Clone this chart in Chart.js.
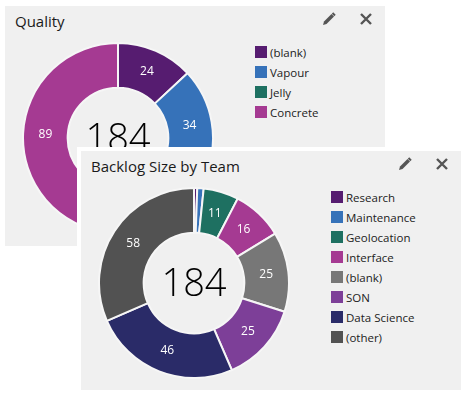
<!DOCTYPE html>
<html>
<head>
<meta charset="utf-8">
<script src="https://cdn.jsdelivr.net/npm/chart.js@4.4.1/dist/chart.umd.min.js"></script>
<style>
  body { margin: 0; width: 462px; height: 394px; background: #fff; position: relative; overflow: hidden; font-family: "Open Sans", sans-serif; }
  .card { position: absolute; background: #f0f0f0; }
  #card-quality { left: 5px; top: 6px; width: 380px; height: 240px; }
  #card-team { left: 77px; top: 147px; width: 380px; height: 239px; border: 4px solid #fff; }
  .title { position: absolute; left: 10px; top: 5px; font-size: 15px; line-height: 20px; color: #1a1a1a; white-space: nowrap; }
  .icon { position: absolute; top: 6px; width: 14px; height: 14px; }
  .icon.edit { left: 317px; }
  .icon.close { left: 354px; }
  .chart-box { position: absolute; left: 17px; top: 36px; width: 192px; height: 192px; }
  .legend { position: absolute; left: 250px; top: 36px; list-style: none; margin: 0; padding: 0; }
  .legend li { height: 20px; display: flex; align-items: center; font-size: 11.5px; color: #222; white-space: nowrap; }
  .legend .box { width: 12px; height: 12px; margin-right: 3px; flex: none; }
</style>
</head>
<body>

<div class="card" id="card-quality">
  <div class="title">Quality</div>
  <svg class="icon edit" viewBox="0 0 14 14"><path d="M1 13 L2 9.5 L9.5 2 L12 4.5 L4.5 12 Z" fill="#555"/><path d="M10.5 1 L13 3.5" stroke="#555" stroke-width="2"/></svg>
  <svg class="icon close" viewBox="0 0 14 14"><path d="M2 2 L12 12 M12 2 L2 12" stroke="#555" stroke-width="2.4"/></svg>
  <div class="chart-box"><canvas id="qualityChart"></canvas></div>
  <ul class="legend" id="qualityLegend"></ul>
</div>

<div class="card" id="card-team">
  <div class="title">Backlog Size by Team</div>
  <svg class="icon edit" viewBox="0 0 14 14"><path d="M1 13 L2 9.5 L9.5 2 L12 4.5 L4.5 12 Z" fill="#555"/><path d="M10.5 1 L13 3.5" stroke="#555" stroke-width="2"/></svg>
  <svg class="icon close" viewBox="0 0 14 14"><path d="M2 2 L12 12 M12 2 L2 12" stroke="#555" stroke-width="2.4"/></svg>
  <div class="chart-box"><canvas id="teamChart"></canvas></div>
  <ul class="legend" id="teamLegend"></ul>
</div>

<script>
const qualityLabels = ['(blank)', 'Vapour', 'Jelly', 'Concrete'];
const qualityValues = [24, 34, 37, 89];
const qualityColors = ['#561c70', '#3672b9', '#1e7061', '#a53a92'];

const teamLabels = ['Research', 'Maintenance', 'Geolocation', 'Interface', '(blank)', 'SON', 'Data Science', '(other)'];
const teamValues = [1, 2, 11, 16, 25, 25, 46, 58];
const teamColors = ['#561c70', '#3672b9', '#1e7061', '#a53a92', '#777777', '#7d3f98', '#2a2b68', '#525252'];

// value on each slice + total in the hole
const donutText = {
    id: 'donutText',
    afterDatasetsDraw(chart) {
        const ctx = chart.ctx;
        const meta = chart.getDatasetMeta(0);
        const values = chart.data.datasets[0].data;
        ctx.save();
        ctx.textAlign = 'center';
        ctx.textBaseline = 'middle';
        ctx.fillStyle = '#fff';
        ctx.font = '12px "Open Sans"';
        meta.data.forEach((arc, i) => {
            if (values[i] < 5) return;
            const p = arc.tooltipPosition();
            ctx.fillText(values[i], p.x, p.y);
        });
        const total = values.reduce((a, b) => a + b, 0);
        ctx.fillStyle = '#000';
        ctx.font = '300 38px "Open Sans"';
        ctx.fillText(total, meta.data[0].x, meta.data[0].y + 2);
        ctx.restore();
    }
};

// html legend built from the chart's own legend items
const htmlLegend = {
    id: 'htmlLegend',
    afterUpdate(chart, args, opts) {
        const ul = document.getElementById(opts.containerID);
        const items = chart.options.plugins.legend.labels.generateLabels(chart);
        ul.innerHTML = items.map(it =>
            `<li><span class="box" style="background:${it.fillStyle}"></span>${it.text}</li>`
        ).join('');
    }
};

function makeDonut(id, legendId, labels, values, colors) {
    return new Chart(document.getElementById(id), {
        type: 'doughnut',
        data: {
            labels: labels,
            datasets: [{
                data: values,
                backgroundColor: colors,
                borderColor: '#f6f6f6',
                borderWidth: 2
            }]
        },
        options: {
            responsive: true,
            maintainAspectRatio: false,
            animation: false,
            cutout: '53%',
            plugins: {
                legend: { display: false },
                tooltip: { enabled: false },
                htmlLegend: { containerID: legendId }
            }
        },
        plugins: [donutText, htmlLegend]
    });
}

makeDonut('qualityChart', 'qualityLegend', qualityLabels, qualityValues, qualityColors);
makeDonut('teamChart', 'teamLegend', teamLabels, teamValues, teamColors);
</script>
</body>
</html>
